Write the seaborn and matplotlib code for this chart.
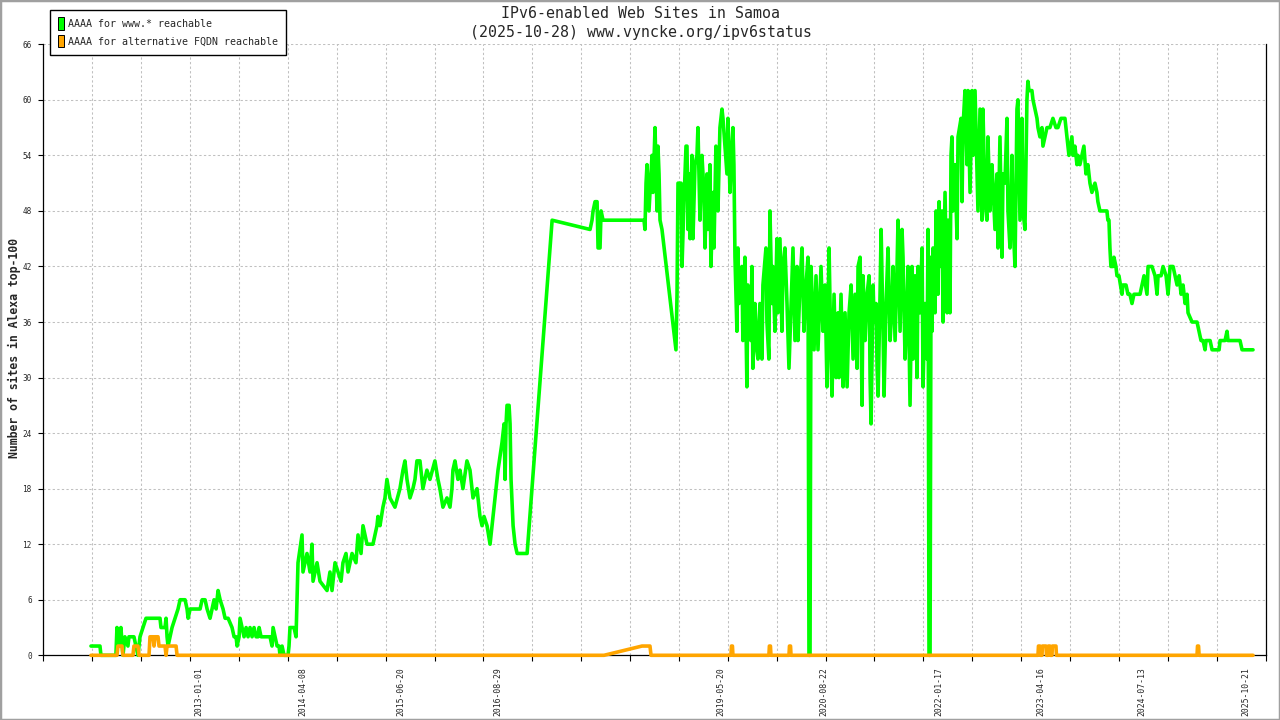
import numpy as np
import pandas as pd
import matplotlib
matplotlib.use("Agg")
import matplotlib.pyplot as plt
import matplotlib.dates as mdates
from matplotlib.patches import Patch, Rectangle
from matplotlib.ticker import FixedLocator, FixedFormatter, NullFormatter
import seaborn as sns

# ---------------- data ----------------
title_line1 = "IPv6-enabled Web Sites in Samoa"
title_line2 = "(2025-10-28) www.vyncke.org/ipv6status"
y_label = "Number of sites in Alexa top-100"
legend_labels = ["AAAA for www.* reachable", "AAAA for alternative FQDN reachable"]

# dates as decimal years, values = number of sites
www_years = [
    2011.680, 2011.790, 2011.802, 2011.985, 2011.998, 2012.022, 2012.046, 2012.071, 2012.095, 2012.132,
    2012.144, 2012.205, 2012.230, 2012.254, 2012.279, 2012.315, 2012.352, 2012.523, 2012.535, 2012.584,
    2012.597, 2012.609, 2012.621, 2012.645, 2012.670, 2012.707, 2012.743, 2012.768, 2012.829, 2012.853,
    2012.866, 2012.890, 2013.012, 2013.037, 2013.073, 2013.098, 2013.134, 2013.159, 2013.183, 2013.208,
    2013.232, 2013.257, 2013.293, 2013.318, 2013.355, 2013.403, 2013.428, 2013.452, 2013.465, 2013.489,
    2013.501, 2013.526, 2013.550, 2013.575, 2013.599, 2013.623, 2013.648, 2013.672, 2013.697, 2013.721,
    2013.734, 2013.758, 2013.868, 2013.892, 2013.905, 2013.929, 2013.954, 2013.978, 2013.990, 2014.015,
    2014.039, 2014.088, 2014.100, 2014.112, 2014.161, 2014.186, 2014.210, 2014.259, 2014.271, 2014.320,
    2014.357, 2014.381, 2014.394, 2014.443, 2014.479, 2014.565, 2014.601, 2014.626, 2014.663, 2014.699,
    2014.736, 2014.760, 2014.797, 2014.822, 2014.871, 2014.919, 2014.944, 2014.981, 2015.005, 2015.054,
    2015.127, 2015.176, 2015.188, 2015.213, 2015.249, 2015.274, 2015.298, 2015.335, 2015.396, 2015.457,
    2015.494, 2015.518, 2015.543, 2015.580, 2015.616, 2015.641, 2015.665, 2015.702, 2015.738, 2015.787,
    2015.824, 2015.885, 2015.922, 2015.946, 2015.983, 2016.032, 2016.069, 2016.093, 2016.105, 2016.130,
    2016.166, 2016.191, 2016.227, 2016.276, 2016.313, 2016.337, 2016.350, 2016.399, 2016.435, 2016.460,
    2016.484, 2016.521, 2016.558, 2016.594, 2016.619, 2016.655, 2016.704, 2016.729, 2016.741, 2016.753,
    2016.765, 2016.790, 2016.802, 2016.814, 2016.839, 2016.863, 2016.888, 2017.010, 2017.316, 2017.780,
    2017.804, 2017.817, 2017.841, 2017.866, 2017.878, 2017.902, 2017.915, 2017.939, 2018.440, 2018.452,
    2018.465, 2018.477, 2018.501, 2018.526, 2018.538, 2018.550, 2018.575, 2018.599, 2018.611, 2018.624,
    2018.636, 2018.660, 2018.831, 2018.844, 2018.856, 2018.893, 2018.905, 2018.929, 2018.954, 2018.966,
    2018.978, 2018.990, 2019.003, 2019.027, 2019.039, 2019.064, 2019.088, 2019.100, 2019.125, 2019.149,
    2019.174, 2019.186, 2019.210, 2019.223, 2019.247, 2019.259, 2019.284, 2019.296, 2019.320, 2019.345,
    2019.369, 2019.394, 2019.406, 2019.455, 2019.467, 2019.492, 2019.516, 2019.528, 2019.540, 2019.553,
    2019.577, 2019.589, 2019.602, 2019.638, 2019.650, 2019.675, 2019.699, 2019.711, 2019.748, 2019.760,
    2019.772, 2019.797, 2019.821, 2019.834, 2019.858, 2019.883, 2019.895, 2019.932, 2019.944, 2019.968,
    2019.981, 2020.005, 2020.017, 2020.042, 2020.066, 2020.078, 2020.103, 2020.127, 2020.140, 2020.164,
    2020.189, 2020.213, 2020.250, 2020.262, 2020.286, 2020.311, 2020.323, 2020.347, 2020.372, 2020.396,
    2020.421, 2020.445, 2020.457, 2020.470, 2020.482, 2020.519, 2020.543, 2020.567, 2020.604, 2020.628,
    2020.653, 2020.677, 2020.702, 2020.726, 2020.738, 2020.763, 2020.787, 2020.812, 2020.824, 2020.848,
    2020.873, 2020.897, 2020.922, 2020.946, 2020.971, 2020.995, 2021.020, 2021.044, 2021.056, 2021.081,
    2021.105, 2021.117, 2021.142, 2021.166, 2021.191, 2021.203, 2021.215, 2021.240, 2021.252, 2021.276,
    2021.289, 2021.301, 2021.325, 2021.338, 2021.362, 2021.374, 2021.399, 2021.423, 2021.448, 2021.472,
    2021.484, 2021.509, 2021.533, 2021.545, 2021.570, 2021.594, 2021.606, 2021.631, 2021.655, 2021.667,
    2021.692, 2021.716, 2021.729, 2021.753, 2021.778, 2021.790, 2021.814, 2021.839, 2021.851, 2021.875,
    2021.900, 2021.912, 2021.924, 2021.937, 2021.949, 2021.961, 2021.973, 2021.998, 2022.010, 2022.034,
    2022.047, 2022.059, 2022.083, 2022.096, 2022.120, 2022.145, 2022.157, 2022.181, 2022.193, 2022.205,
    2022.218, 2022.242, 2022.267, 2022.279, 2022.316, 2022.328, 2022.340, 2022.364, 2022.389, 2022.401,
    2022.426, 2022.450, 2022.462, 2022.487, 2022.511, 2022.523, 2022.548, 2022.572, 2022.584, 2022.609,
    2022.633, 2022.645, 2022.670, 2022.694, 2022.706, 2022.731, 2022.755, 2022.768, 2022.792, 2022.817,
    2022.829, 2022.853, 2022.878, 2022.890, 2022.915, 2022.939, 2022.951, 2022.976, 2023.000, 2023.012,
    2023.037, 2023.061, 2023.073, 2023.098, 2023.122, 2023.134, 2023.147, 2023.183, 2023.196, 2023.220,
    2023.245, 2023.257, 2023.281, 2023.306, 2023.318, 2023.342, 2023.367, 2023.403, 2023.440, 2023.477,
    2023.501, 2023.538, 2023.587, 2023.611, 2023.623, 2023.636, 2023.672, 2023.685, 2023.709, 2023.734,
    2023.746, 2023.770, 2023.795, 2023.819, 2023.844, 2023.868, 2023.893, 2023.917, 2023.954, 2023.978,
    2023.990, 2024.015, 2024.100, 2024.112, 2024.125, 2024.137, 2024.149, 2024.174, 2024.186, 2024.210,
    2024.223, 2024.247, 2024.284, 2024.296, 2024.333, 2024.357, 2024.381, 2024.406, 2024.430, 2024.504,
    2024.528, 2024.553, 2024.589, 2024.602, 2024.650, 2024.687, 2024.712, 2024.724, 2024.761, 2024.785,
    2024.822, 2024.846, 2024.871, 2024.907, 2024.932, 2024.956, 2024.981, 2025.005, 2025.029, 2025.054,
    2025.078, 2025.090, 2025.139, 2025.200, 2025.225, 2025.249, 2025.274, 2025.298, 2025.310, 2025.360,
    2025.384, 2025.470, 2025.482, 2025.543, 2025.567, 2025.579, 2025.726, 2025.751, 2025.885,
]
www_values = [
    1, 1, 0, 0, 3, 1, 3, 0, 2, 1,
    2, 2, 1, 0, 2, 3, 4, 4, 3, 3,
    4, 2, 1, 2, 3, 4, 5, 6, 6, 5,
    4, 5, 5, 6, 6, 5, 4, 5, 6, 5,
    7, 6, 5, 4, 4, 3, 2, 2, 1, 2,
    4, 3, 2, 3, 2, 3, 2, 3, 2, 2,
    3, 2, 2, 1, 3, 2, 1, 1, 0, 1,
    0, 0, 1, 3, 3, 2, 10, 13, 9, 11,
    9, 12, 8, 10, 8, 7, 9, 7, 10, 9,
    8, 10, 11, 9, 11, 10, 13, 11, 14, 12,
    12, 14, 15, 14, 16, 17, 19, 17, 16, 18,
    20, 21, 19, 17, 18, 19, 21, 21, 18, 20,
    19, 21, 19, 18, 16, 17, 16, 18, 20, 21,
    19, 20, 18, 21, 20, 18, 17, 18, 15, 14,
    15, 14, 12, 15, 17, 20, 23, 25, 19, 25,
    27, 27, 25, 19, 14, 12, 11, 11, 47, 46,
    47, 48, 49, 49, 44, 44, 48, 47, 47, 46,
    51, 53, 48, 52, 54, 50, 57, 48, 55, 52,
    47, 46, 33, 39, 51, 51, 42, 49, 55, 55,
    46, 52, 45, 54, 45, 53, 54, 57, 47, 54,
    50, 44, 52, 46, 53, 42, 50, 44, 55, 48,
    57, 59, 58, 52, 58, 50, 55, 57, 53, 43,
    35, 44, 38, 42, 34, 43, 29, 40, 34, 42,
    31, 38, 33, 32, 38, 32, 40, 44, 36, 32,
    48, 38, 42, 35, 45, 37, 45, 35, 42, 44,
    38, 31, 41, 44, 34, 42, 34, 40, 44, 35,
    40, 43, 0, 0, 42, 33, 41, 33, 42, 35,
    40, 29, 44, 32, 28, 39, 30, 37, 30, 39,
    29, 37, 29, 37, 40, 32, 39, 31, 42, 43,
    27, 41, 34, 39, 41, 30, 25, 40, 36, 38,
    31, 28, 39, 46, 35, 28, 38, 44, 34, 38,
    42, 34, 42, 47, 35, 46, 43, 32, 38, 42,
    27, 42, 32, 41, 30, 42, 37, 44, 29, 38,
    32, 46, 0, 0, 43, 35, 44, 37, 48, 39,
    49, 42, 48, 36, 50, 37, 47, 37, 54, 56,
    48, 53, 45, 56, 58, 49, 57, 61, 53, 61,
    50, 61, 54, 61, 52, 48, 59, 47, 59, 49,
    47, 56, 48, 53, 51, 46, 52, 44, 56, 43,
    52, 51, 58, 48, 44, 54, 47, 42, 59, 60,
    47, 58, 48, 46, 60, 62, 61, 61, 60, 59,
    58, 57, 56, 57, 55, 56, 57, 57, 58, 57,
    57, 58, 58, 56, 55, 54, 56, 54, 55, 53,
    54, 53, 54, 55, 52, 53, 51, 50, 51, 50,
    49, 48, 48, 47, 47, 44, 42, 42, 43, 42,
    41, 41, 39, 40, 40, 39, 39, 38, 39, 39,
    40, 41, 39, 42, 42, 41, 39, 41, 41, 42,
    41, 39, 42, 42, 41, 40, 41, 39, 40, 38,
    39, 37, 36, 36, 35, 34, 34, 33, 34, 34,
    33, 33, 34, 34, 35, 34, 34, 33, 33,
]

alt_years = [
    2011.680, 2011.998, 2012.010, 2012.059, 2012.071, 2012.193, 2012.205, 2012.254, 2012.267, 2012.389,
    2012.401, 2012.438, 2012.450, 2012.462, 2012.499, 2012.511, 2012.584, 2012.597, 2012.609, 2012.719,
    2012.731, 2017.951, 2018.416, 2018.513, 2018.526, 2019.504, 2019.510, 2019.522, 2019.528, 2019.968,
    2019.974, 2019.987, 2019.993, 2020.213, 2020.219, 2020.232, 2020.238, 2023.257, 2023.263, 2023.281,
    2023.287, 2023.306, 2023.312, 2023.355, 2023.361, 2023.379, 2023.385, 2023.403, 2023.409, 2023.428,
    2023.434, 2023.477, 2023.483, 2025.200, 2025.206, 2025.219, 2025.225, 2025.885,
]
alt_values = [
    0, 0, 1, 1, 0, 0, 1, 1, 0, 0,
    2, 2, 1, 2, 2, 1, 1, 0, 1, 1,
    0, 0, 1, 1, 0, 0, 1, 1, 0, 0,
    1, 1, 0, 0, 1, 1, 0, 0, 1, 1,
    0, 0, 1, 1, 0, 0, 1, 1, 0, 0,
    1, 1, 0, 0, 1, 1, 0, 0,
]

x_tick_labels = ["2013-01-01", "2014-04-08", "2015-06-20", "2016-08-29", "2019-05-20",
                 "2020-08-22", "2022-01-17", "2023-04-16", "2024-07-13", "2025-10-21"]
y_ticks = [0, 6, 12, 18, 24, 30, 36, 42, 48, 54, 60, 66]
x_limits_years = [2011.098, 2026.039]


def year_to_datetime(y):
    year = int(np.floor(y))
    start = pd.Timestamp(year=year, month=1, day=1)
    end = pd.Timestamp(year=year + 1, month=1, day=1)
    return start + (y - year) * (end - start)


df_www = pd.DataFrame({"date": [year_to_datetime(v) for v in www_years], "sites": www_values})
df_alt = pd.DataFrame({"date": [year_to_datetime(v) for v in alt_years], "sites": alt_values})

# ---------------- style ----------------
sns.set_theme(style="white")
plt.rcParams["font.family"] = ["DejaVu Sans Mono", "DejaVu Sans"]

GREEN = "#00ff00"
ORANGE = "#ffa500"

fig = plt.figure(figsize=(12.8, 7.2), dpi=100)
fig.patch.set_facecolor("white")
ax = fig.add_axes([43.4 / 1280, 1 - 655.3 / 720, (1265.6 - 43.4) / 1280, (655.3 - 44.3) / 720])
ax.set_facecolor("white")

sns.lineplot(data=df_www, x="date", y="sites", ax=ax, color=GREEN, linewidth=2.6,
             estimator=None, sort=False, legend=False, zorder=3, clip_on=False)
sns.lineplot(data=df_alt, x="date", y="sites", ax=ax, color=ORANGE, linewidth=2.6,
             estimator=None, sort=False, legend=False, zorder=4, clip_on=False)

xmin = year_to_datetime(x_limits_years[0])
xmax = year_to_datetime(x_limits_years[1])
ax.set_xlim(xmin, xmax)
ax.set_ylim(0, 66)

# major x ticks: evenly spaced grid ticks, no labels
grid_pos = np.linspace(mdates.date2num(xmin), mdates.date2num(xmax), 26)
ax.xaxis.set_major_locator(FixedLocator(grid_pos))
ax.xaxis.set_major_formatter(NullFormatter())
# minor x ticks: the date labels
ax.xaxis.set_minor_locator(FixedLocator(mdates.date2num(pd.to_datetime(x_tick_labels))))
ax.xaxis.set_minor_formatter(FixedFormatter(x_tick_labels))
ax.tick_params(axis="x", which="major", direction="out", length=4.3, width=0.8, color="black",
               bottom=True)
ax.tick_params(axis="x", which="minor", length=0, pad=8.5, labelsize=5.9, labelrotation=90,
               bottom=True)

ax.set_yticks(y_ticks)
ax.set_yticklabels([str(v) for v in y_ticks])
ax.tick_params(axis="y", which="major", direction="out", length=3.9, width=0.8, color="black",
               labelsize=5.6, pad=4.5, left=True)

ax.grid(True, which="major", color="#c0c0c0", linestyle=(0, (2.2, 2.2)), linewidth=0.75)
ax.set_axisbelow(True)

for side in ["left", "bottom", "right"]:
    ax.spines[side].set_visible(True)
    ax.spines[side].set_color("black")
    ax.spines[side].set_linewidth(0.9)
ax.spines["top"].set_visible(False)

ax.set_xlabel("")
ax.set_ylabel("")

# titles
fig.text(640.5 / 1280, 1 - 13.5 / 720, title_line1, ha="center", va="center", fontsize=10.7)
fig.text(640.5 / 1280, 1 - 33 / 720, title_line2, ha="center", va="center", fontsize=10.7)
fig.text(14 / 1280, 1 - 348 / 720, y_label, ha="center", va="center", rotation=90,
         fontsize=8.3, fontweight="bold")

# legend
handles = [Patch(facecolor=GREEN, edgecolor="black", linewidth=0.7),
           Patch(facecolor=ORANGE, edgecolor="black", linewidth=0.7)]
leg = fig.legend(handles, legend_labels, loc="upper left",
                 bbox_to_anchor=(50 / 1280, 1 - 10 / 720), bbox_transform=fig.transFigure,
                 frameon=True, fancybox=False, edgecolor="black", framealpha=1,
                 fontsize=7.2, handlelength=0.6, handleheight=1.5, handletextpad=0.5,
                 labelspacing=0.55, borderpad=0.75, borderaxespad=0)
leg.get_frame().set_linewidth(1.0)
leg.set_zorder(10)

# light gray outer frame
fig.add_artist(Rectangle((0, 0), 1, 1, transform=fig.transFigure, fill=False,
                         edgecolor="#a0a0a0", linewidth=2.5))

fig.savefig("out.png", dpi=100)
